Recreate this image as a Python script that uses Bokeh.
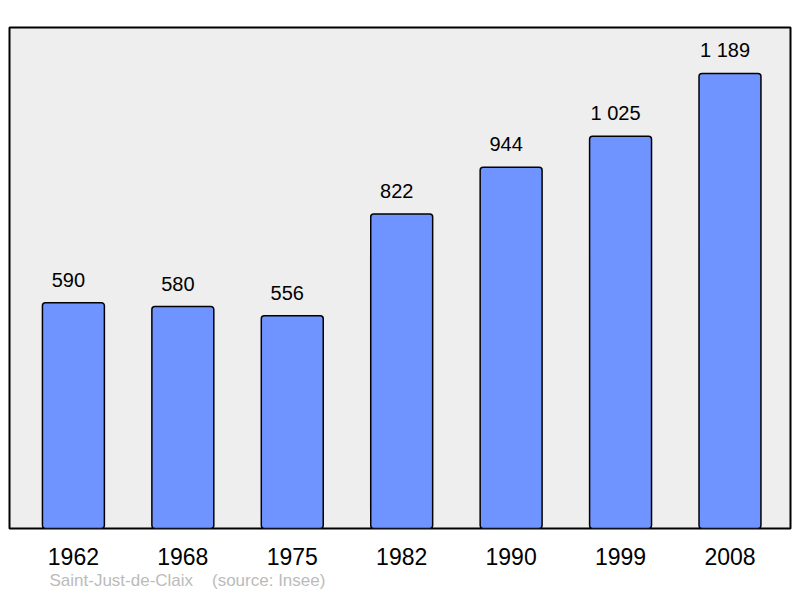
import numpy as np
from bokeh.plotting import figure
from bokeh.models import Range1d, Title, ColumnDataSource
from bokeh.core.properties import value
from bokeh.embed import file_html
from bokeh.resources import INLINE

years = ["1962", "1968", "1975", "1982", "1990", "1999", "2008"]
population = [590, 580, 556, 822, 944, 1025, 1189]
pop_labels = ["590", "580", "556", "822", "944", "1 025", "1 189"]
commune = "Saint-Just-de-Claix"
source = "(source: Insee)"

FONT = "Liberation Sans"

idx = list(range(len(years)))
src = ColumnDataSource(data=dict(x=idx, top=population, label=pop_labels))

p = figure(width=792, height=590, output_backend="svg", toolbar_location=None,
           x_range=Range1d(-0.584, 6.553), y_range=Range1d(0, 1309),
           y_axis_location=None, min_border_left=9, min_border_right=2,
           min_border_top=27, min_border_bottom=62)

p.background_fill_color = "#eeeeee"
p.border_fill_color = "white"
p.outline_line_color = "black"
p.outline_line_width = 2
p.xgrid.visible = False
p.ygrid.visible = False

p.vbar(x="x", top="top", bottom=0, width=0.566, source=src,
       fill_color="#7094ff", line_color="black", line_width=1.5,
       border_radius=3)

# value labels sit a little left of the bar centre, as in the original
p.text(x="x", y="top", text="label", source=src, x_offset=-5, y_offset=-23,
       text_align="center", text_baseline="alphabetic",
       text_font=value(FONT), text_font_size="20px", text_color="black")

xa = p.xaxis[0]
xa.ticker = idx
xa.major_label_overrides = {i: y for i, y in zip(idx, years)}
xa.axis_line_color = None
xa.major_tick_line_color = None
xa.major_tick_out = 0
xa.minor_tick_line_color = None
xa.minor_tick_out = 0
xa.major_label_text_font = FONT
xa.major_label_text_font_size = "23px"
xa.major_label_text_color = "black"
xa.major_label_standoff = 19

footer = Title(text=commune + "\u00a0\u00a0\u00a0\u00a0" + source,
               align="left", offset=40, standoff=2,
               text_font=FONT, text_font_size="17px", text_font_style="normal",
               text_color="#bbbbbb")
p.add_layout(footer, "below")

open("out.html", "w").write(file_html(p, INLINE))
